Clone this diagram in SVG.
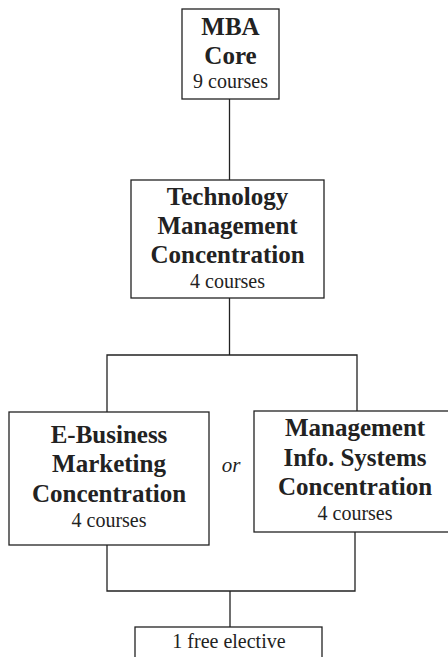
<svg xmlns="http://www.w3.org/2000/svg" width="448" height="657" viewBox="0 0 448 657">
<style>
.box{fill:#fff;stroke:#222;stroke-width:1.3}
.ln{fill:none;stroke:#222;stroke-width:1.3}
.tx{fill:#222;text-anchor:middle}
.t{font-weight:bold;font-size:25px}
.s{font-size:20px}
.o{font-style:italic;font-size:21px}
</style>
<rect width="448" height="657" fill="#fff"/>
<g id="connectors">
<path class="ln" d="M229.5 99V180"/>
<path class="ln" d="M229.5 298V355M107 412V355H357V411"/>
<path class="ln" d="M107 545V591H355V532M230 591V627"/>
</g>
<g font-family="'Liberation Serif', 'Times New Roman', serif" class="tx">
<g id="mba">
<rect class="box" x="182" y="9" width="97" height="90"/>
<text class="t" x="230.5" y="35">MBA</text>
<text class="t" x="230.5" y="64">Core</text>
<text class="s" x="230.5" y="88">9 courses</text>
</g>
<g id="tech">
<rect class="box" x="131" y="180" width="193" height="118"/>
<text class="t" x="227.5" y="205">Technology</text>
<text class="t" x="227.5" y="234">Management</text>
<text class="t" x="227.5" y="263">Concentration</text>
<text class="s" x="227.5" y="288">4 courses</text>
</g>
<g id="ebiz">
<rect class="box" x="9" y="412" width="200" height="133"/>
<text class="t" x="109" y="443">E-Business</text>
<text class="t" x="109" y="472">Marketing</text>
<text class="t" x="109" y="502">Concentration</text>
<text class="s" x="109" y="527">4 courses</text>
</g>
<text class="o" x="231" y="472">or</text>
<g id="mis">
<rect class="box" x="254" y="411" width="204" height="121"/>
<text class="t" x="355" y="436">Management</text>
<text class="t" x="355" y="466">Info. Systems</text>
<text class="t" x="355" y="495">Concentration</text>
<text class="s" x="355" y="520">4 courses</text>
</g>
<g id="elective">
<rect class="box" x="135" y="627" width="187" height="50"/>
<text class="s" x="229" y="648">1 free elective</text>
</g>
</g>
</svg>
